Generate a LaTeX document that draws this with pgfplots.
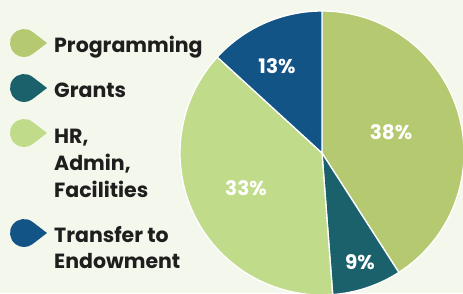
\documentclass[border=0pt]{standalone}
\usepackage{pgfplots}
\pgfplotsset{compat=1.18}
\usepackage{fontspec}
\setmainfont{Poppins}
\definecolor{bg}{RGB}{244,247,235}
\definecolor{prog}{RGB}{181,201,112}
\definecolor{grant}{RGB}{27,97,107}
\definecolor{hr}{RGB}{192,220,138}
\definecolor{endow}{RGB}{19,84,134}
\definecolor{txt}{RGB}{30,30,30}
% slice shares (percent of the circle, as drawn)
\def\vA{40.9}\def\vB{7.9}\def\vC{38.0}\def\vD{13.2}
\begin{document}
\begin{tikzpicture}[x=1pt,y=1pt]
\fill[bg] (0,0) rectangle (463,293);
\pgfmathsetmacro\aA{90}
\pgfmathsetmacro\aB{\aA-3.6*\vA}
\pgfmathsetmacro\aC{\aB-3.6*\vB}
\pgfmathsetmacro\aD{\aC-3.6*\vC}
\pgfmathsetmacro\aE{\aD-3.6*\vD}
\begin{axis}[at={(0,0)}, anchor=south west, x=1pt, y=1pt,
  xmin=0, xmax=463, ymin=0, ymax=293, hide axis, clip=true]
\addplot[fill=prog, draw=white, line width=1.3pt, line join=round, domain=\aB:\aA, samples=90, variable=\t]
  ({322+142*cos(\t)},{140+142*sin(\t)}) -- (axis cs:322,140) -- cycle;
\addplot[fill=grant, draw=white, line width=1.3pt, line join=round, domain=\aC:\aB, samples=30, variable=\t]
  ({322+142*cos(\t)},{140+142*sin(\t)}) -- (axis cs:322,140) -- cycle;
\addplot[fill=hr, draw=white, line width=1.3pt, line join=round, domain=\aD:\aC, samples=90, variable=\t]
  ({322+142*cos(\t)},{140+142*sin(\t)}) -- (axis cs:322,140) -- cycle;
\addplot[fill=endow, draw=white, line width=1.3pt, line join=round, domain=\aE:\aD, samples=40, variable=\t]
  ({322+142*cos(\t)},{140+142*sin(\t)}) -- (axis cs:322,140) -- cycle;
\tikzset{lab/.style={white, font=\bfseries\fontsize{20}{20}\selectfont}}
\node[lab] at (axis cs:391,161) {38\%};
\node[lab] at (axis cs:360,31) {9\%};
\node[lab] at (axis cs:277,227) {13\%};
\node[lab] at (axis cs:246,105) {33\%};
\end{axis}
% legend markers (teardrops)
\foreach \cy/\col in {250/prog, 205/grant, 160/hr, 60/endow}{
  \fill[\col] ({24+14*cos(52.5)},{\cy+14*sin(52.5)}) arc[start angle=52.5, end angle=307.5, radius=14] -- (47,\cy) -- cycle;
}
\tikzset{leg/.style={anchor=base west, inner sep=0pt, text=txt, font=\bfseries\fontsize{20.5}{20.5}\selectfont}}
\node[leg] at (54,240.7) {Programming};
\node[leg] at (54,195.7) {Grants};
\node[leg] at (54,150) {HR,};
\node[leg] at (54,123) {Admin,};
\node[leg] at (54,96) {Facilities};
\node[leg] at (54,51) {Transfer to};
\node[leg] at (54,25) {Endowment};
\end{tikzpicture}
\end{document}
